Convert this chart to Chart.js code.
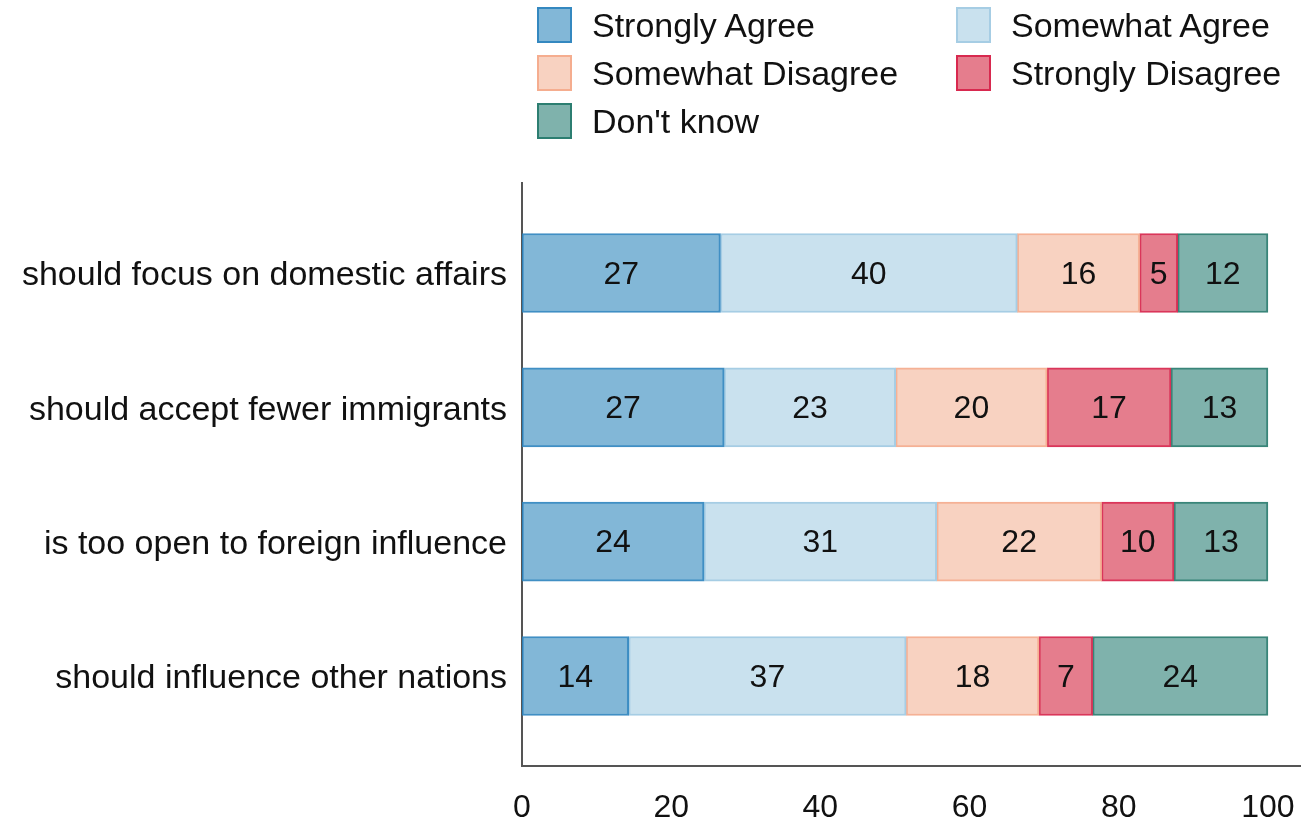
<!DOCTYPE html>
<html><head><meta charset="utf-8">
<script src="https://cdn.jsdelivr.net/npm/chart.js@4/dist/chart.umd.min.js"></script>
<style>
html,body{margin:0;padding:0;background:#fff;}
#wrap{position:relative;width:1304px;height:825px;overflow:hidden;}
#c{position:absolute;left:0;top:0;}
#legend{position:absolute;left:0;top:0;width:1304px;height:150px;font-family:"Liberation Sans",Arial,sans-serif;font-size:34px;color:#111;}
.item{position:absolute;display:flex;align-items:center;height:36px;white-space:nowrap;}
.box{width:35px;height:36px;box-sizing:border-box;border:2px solid;margin-right:20px;flex:none;}
</style></head>
<body><div id="wrap"><canvas id="c" width="1304" height="825"></canvas><div id="legend"></div></div>
<script>
// ---- data ----
const categories = ["should focus on domestic affairs", "should accept fewer immigrants", "is too open to foreign influence", "should influence other nations"];
const seriesNames = ["Strongly Agree", "Somewhat Agree", "Somewhat Disagree", "Strongly Disagree", "Don't know"];
const stronglyAgree    = [26.6, 27.1, 24.4, 14.3];
const somewhatAgree    = [39.8, 23.0, 31.2, 37.2];
const somewhatDisagree = [16.4, 20.3, 22.1, 17.8];
const stronglyDisagree = [5.1, 16.6, 9.7, 7.2];
const dontKnow         = [12.1, 13.0, 12.6, 23.5];
const xTicks = [0, 20, 40, 60, 80, 100];

// ---- styles ----
const fills   = ["rgba(130,183,215,1)", "rgba(201,225,238,1)", "rgba(248,210,193,1)", "rgba(229,125,141,1)", "rgba(127,178,172,1)"];
const borders = ["rgba(43,131,190,0.9)", "rgba(166,205,228,1)", "rgba(244,168,138,0.9)", "rgba(214,32,72,0.9)", "rgba(35,120,106,0.9)"];
const FONT = '"Liberation Sans", Arial, sans-serif';

const seriesData = [stronglyAgree, somewhatAgree, somewhatDisagree, stronglyDisagree, dontKnow];

const datasets = seriesNames.map((name, k) => ({
  label: name,
  data: seriesData[k].map((v, i) => ({ x: v, y: i })),
  backgroundColor: fills[k],
  borderColor: borders[k],
  borderWidth: 2,
  borderSkipped: false,
  barThickness: 79
}));

const barLabels = {
  id: 'barLabels',
  afterDatasetsDraw(chart) {
    const ctx = chart.ctx;
    ctx.save();
    ctx.font = '32px ' + FONT;
    ctx.fillStyle = '#111';
    ctx.textAlign = 'center';
    ctx.textBaseline = 'middle';
    chart.data.datasets.forEach((ds, k) => {
      const meta = chart.getDatasetMeta(k);
      meta.data.forEach((el, j) => {
        const p = el.getCenterPoint();
        ctx.fillText(String(Math.round(ds.data[j].x)), p.x, p.y + 2);
      });
    });
    ctx.restore();
  }
};

const chart = new Chart(document.getElementById('c'), {
  type: 'bar',
  data: { datasets },
  plugins: [barLabels],
  options: {
    indexAxis: 'y',
    responsive: false,
    animation: false,
    layout: { padding: { top: 183, right: 4, bottom: 0, left: 0 } },
    plugins: { legend: { display: false }, tooltip: { enabled: false } },
    scales: {
      x: {
        type: 'linear', stacked: true, min: 0, max: 104.3, offset: false,
        grid: { display: false, drawTicks: false },
        border: { display: true, color: '#555', width: 2 },
        ticks: { font: { size: 32, family: FONT }, color: '#111', padding: 23 },
        afterBuildTicks: s => { s.ticks = xTicks.map(v => ({ value: v })); },
        afterFit: s => { s.height = 59; s.paddingRight = 0; s.paddingLeft = 0; }
      },
      y: {
        type: 'linear', stacked: true, reverse: true, min: -0.67, max: 3.67, offset: false,
        grid: { display: false, drawTicks: false, offset: false },
        border: { display: true, color: '#555', width: 2 },
        ticks: { font: { size: 34, family: FONT }, color: '#111', padding: 15, labelOffset: 3,
                 callback: v => categories[v] },
        afterBuildTicks: s => { s.ticks = categories.map((c, i) => ({ value: i })); },
        afterFit: s => { s.width = 522; s.paddingTop = 0; s.paddingBottom = 0; }
      }
    }
  }
});

// ---- HTML legend built from chart datasets ----
const legendCols = [537, 956];
const legendRows = [7, 55, 103];
const legendEl = document.getElementById('legend');
chart.data.datasets.forEach((ds, k) => {
  const it = document.createElement('div');
  it.className = 'item';
  it.style.left = legendCols[k % 2] + 'px';
  it.style.top = legendRows[Math.floor(k / 2)] + 'px';
  const b = document.createElement('span');
  b.className = 'box';
  b.style.background = ds.backgroundColor;
  b.style.borderColor = ds.borderColor;
  const t = document.createElement('span');
  t.textContent = ds.label;
  it.appendChild(b); it.appendChild(t);
  legendEl.appendChild(it);
});
</script></body></html>
